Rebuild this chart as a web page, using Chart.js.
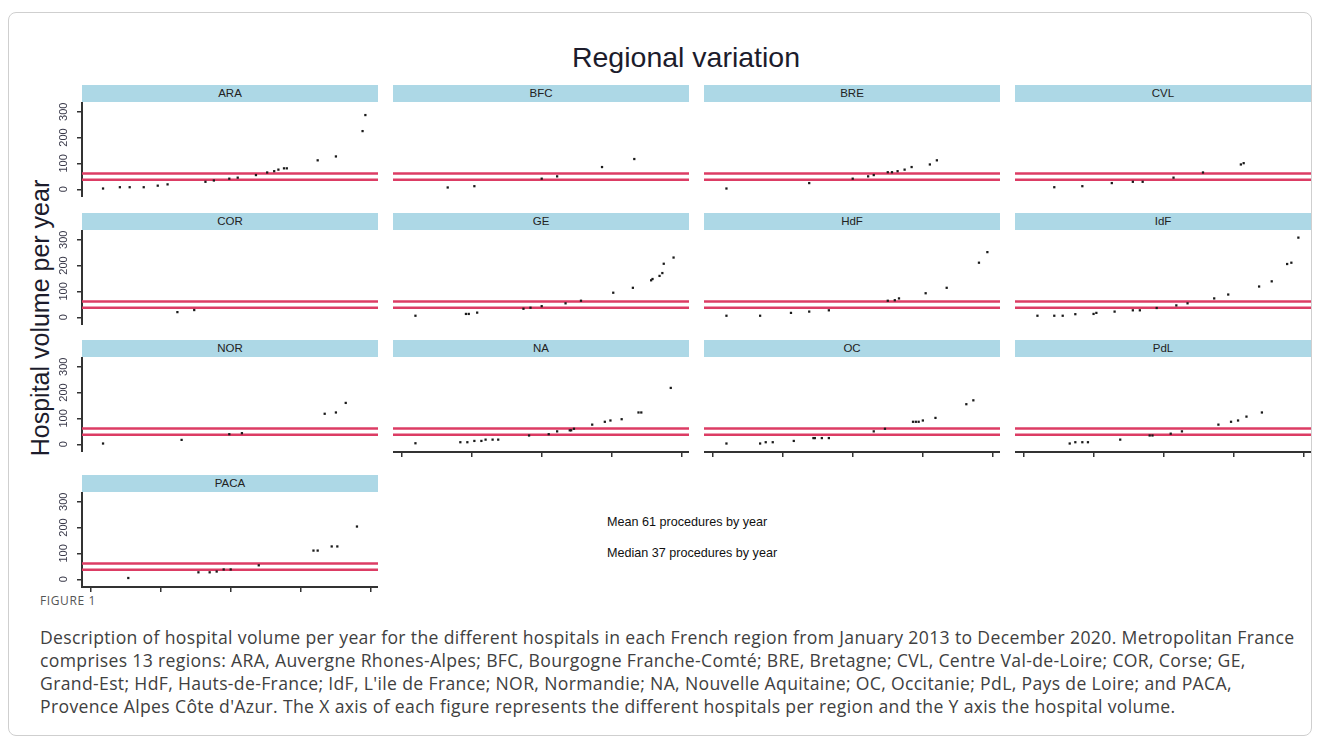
<!DOCTYPE html>
<html>
<head>
<meta charset="utf-8">
<script src="https://cdn.jsdelivr.net/npm/chart.js@4.4.1/dist/chart.umd.min.js"></script>
<style>
  html, body { margin: 0; padding: 0; background: #fff; }
  #fig { position: relative; width: 1320px; height: 743px; overflow: hidden; font-family: "Liberation Sans", Arial, sans-serif; }
  #frame { position: absolute; left: 8px; top: 12px; width: 1302px; height: 722px; border: 1px solid #cfcfcf; border-radius: 8px; }
  #title { position: absolute; left: 436px; width: 500px; top: 40px; text-align: center; font-size: 28.5px; line-height: 34px; color: #1c1c2c; }
  #ytitle { position: absolute; left: 40px; top: 318px; transform: translate(-50%, -50%) rotate(-90deg); white-space: nowrap; font-size: 25px; color: #1c1c2c; }
  .strip { position: absolute; height: 17px; background: #add8e6; text-align: center; font-size: 11.5px; line-height: 17px; color: #222; }
  .panel { position: absolute; }
  .note { position: absolute; left: 607px; font-size: 12.6px; line-height: 16px; color: #111; white-space: nowrap; }
  #figlabel { position: absolute; left: 40px; top: 592px; font-family: "Open Sans", sans-serif; font-size: 12px; letter-spacing: 0.6px; color: #555; }
  #caption { position: absolute; left: 40px; top: 626px; font-family: "Open Sans", sans-serif; font-size: 17.6px; letter-spacing: 0.34px; line-height: 23px; color: #404040; white-space: nowrap; }
</style>
</head>
<body>
<div id="fig">
  <div id="frame"></div>
  <div id="title">Regional variation</div>
  <div id="ytitle">Hospital volume per year</div>
  <div id="meanNote" class="note" style="top:514px"></div>
  <div id="medianNote" class="note" style="top:545px"></div>
  <div id="figlabel">FIGURE 1</div>
  <div id="caption">Description of hospital volume per year for the different hospitals in each French region from January 2013 to December 2020. Metropolitan France<br>comprises 13 regions: ARA, Auvergne Rhones-Alpes; BFC, Bourgogne Franche-Comté; BRE, Bretagne; CVL, Centre Val-de-Loire; COR, Corse; GE,<br>Grand-Est; HdF, Hauts-de-France; IdF, L'ile de France; NOR, Normandie; NA, Nouvelle Aquitaine; OC, Occitanie; PdL, Pays de Loire; and PACA,<br>Provence Alpes Côte d'Azur. The X axis of each figure represents the different hospitals per region and the Y axis the hospital volume.</div>
</div>
<script>
// Hospitals of each region: position on the hospital axis and yearly volume
const araRank   = [9, 21, 28, 38, 48, 55, 82, 88, 99, 105, 118, 126, 131, 134, 138, 140, 162, 175, 194, 196];
const araVolume = [3, 8, 8, 8, 14, 19, 29, 34, 41, 45, 55, 65, 70, 76, 81, 81, 112, 127, 225, 287];
const bfcRank   = [33, 52, 100, 111, 143, 166];
const bfcVolume = [7, 12, 41, 50, 86, 117];
const breRank   = [10, 69, 100, 111, 115, 125, 128, 132, 137, 142, 155, 160];
const breVolume = [3, 24, 41, 50, 55, 66, 66, 70, 76, 86, 96, 112];
const cvlRank   = [22, 42, 63, 78, 85, 107, 128, 155, 157];
const cvlVolume = [8, 12, 24, 29, 29, 45, 65, 96, 101];
const corRank   = [62, 74];
const corVolume = [20, 28];
const geRank    = [10, 46, 48, 54, 87, 92, 100, 117, 128, 151, 165, 178, 179, 184, 186, 187, 194];
const geVolume  = [6, 13, 13, 18, 33, 37, 43, 54, 64, 95, 114, 143, 148, 160, 171, 207, 231];
const hdfRank   = [10, 34, 56, 69, 83, 125, 130, 133, 152, 167, 190, 196];
const hdfVolume = [6, 6, 17, 22, 27, 64, 66, 73, 93, 114, 211, 252];
const idfRank   = [10, 22, 28, 37, 50, 52, 65, 78, 83, 95, 109, 117, 136, 146, 168, 177, 188, 191, 196];
const idfVolume = [6, 6, 6, 12, 13, 17, 22, 27, 27, 36, 46, 54, 73, 88, 119, 139, 206, 211, 308];
const norRank   = [9, 65, 99, 108, 167, 175, 182];
const norVolume = [3, 17, 39, 43, 118, 123, 160];
const naRank    = [10, 42, 47, 52, 57, 60, 65, 69, 91, 105, 111, 120, 121, 123, 136, 145, 149, 157, 169, 171, 192];
const naVolume  = [4, 8, 8, 13, 13, 18, 18, 18, 34, 39, 50, 54, 54, 60, 76, 87, 92, 97, 123, 123, 218];
const ocRank    = [10, 34, 38, 43, 58, 72, 73, 78, 83, 115, 123, 143, 145, 147, 150, 159, 181, 186];
const ocVolume  = [3, 3, 8, 8, 13, 24, 24, 24, 24, 50, 60, 87, 87, 87, 92, 102, 155, 170];
const pdlRank   = [33, 37, 42, 46, 69, 90, 92, 105, 113, 139, 148, 153, 159, 170];
const pdlVolume = [3, 8, 8, 8, 18, 34, 34, 41, 50, 76, 87, 92, 107, 123];
const pacaRank  = [27, 77, 85, 90, 95, 100, 120, 159, 162, 172, 176, 190];
const pacaVolume= [5, 27, 27, 30, 38, 38, 54, 111, 111, 127, 127, 204];

// National reference lines (procedures per year)
const meanVolume = 61;
const medianVolume = 37;

// Axis ticks
const volumeTicks = [0, 100, 200, 300];
const rankTicks = [0, 50, 100, 150, 200];

// Panels in reading order: label, positions, volumes
const regions = [
  ['ARA', araRank, araVolume], ['BFC', bfcRank, bfcVolume], ['BRE', breRank, breVolume], ['CVL', cvlRank, cvlVolume],
  ['COR', corRank, corVolume], ['GE', geRank, geVolume], ['HdF', hdfRank, hdfVolume], ['IdF', idfRank, idfVolume],
  ['NOR', norRank, norVolume], ['NA', naRank, naVolume], ['OC', ocRank, ocVolume], ['PdL', pdlRank, pdlVolume],
  ['PACA', pacaRank, pacaVolume]
];

// Layout of the lattice grid
const COL_LEFT = [82, 393, 704, 1015];
const ROW_TOP = [85, 213, 340, 475];
const PANEL_W = 296, STRIP_H = 17, PLOT_H = 95;
const X_MIN = -6, X_MAX = 205;
const Y_MIN = -29.8, Y_MAX = 337.5;
const AXIS_COLOR = '#333333';
const REF_COLOR = '#dc3c64';

Chart.defaults.font.family = '"Liberation Sans", Arial, sans-serif';
Chart.defaults.animation = false;

document.getElementById('meanNote').textContent = 'Mean ' + meanVolume + ' procedures by year';
document.getElementById('medianNote').textContent = 'Median ' + medianVolume + ' procedures by year';

const fig = document.getElementById('fig');

// Fixed axis footprint so every panel's plotting area lines up
function fixBox(size, horizontal) {
  return (s) => {
    if (horizontal) s.height = size; else s.width = size;
    s.paddingTop = 0; s.paddingBottom = 0; s.paddingLeft = 0; s.paddingRight = 0;
  };
}

regions.forEach(([label, xs, ys], i) => {
  const col = i % 4, row = Math.floor(i / 4);
  const isLeft = col === 0;
  const isBottom = (col === 0 && row === 3) || (col > 0 && row === 2);
  const yAxisW = isLeft ? 34 : 0;
  const xAxisH = isBottom ? 8 : 0;

  const strip = document.createElement('div');
  strip.className = 'strip';
  strip.style.left = COL_LEFT[col] + 'px';
  strip.style.top = ROW_TOP[row] + 'px';
  strip.style.width = PANEL_W + 'px';
  strip.textContent = label;
  fig.appendChild(strip);

  const w = PANEL_W + yAxisW, h = PLOT_H + xAxisH;
  const canvas = document.createElement('canvas');
  canvas.className = 'panel';
  canvas.width = w; canvas.height = h;
  canvas.style.width = w + 'px'; canvas.style.height = h + 'px';
  canvas.style.left = (COL_LEFT[col] - yAxisW) + 'px';
  canvas.style.top = (ROW_TOP[row] + STRIP_H) + 'px';
  fig.appendChild(canvas);

  const refLine = (v) => ({
    data: [{ x: X_MIN, y: v }, { x: X_MAX, y: v }],
    showLine: true, borderColor: REF_COLOR, borderWidth: 2.4, pointRadius: 0, order: 2
  });

  new Chart(canvas, {
    type: 'scatter',
    data: {
      datasets: [
        {
          data: xs.map((x, k) => ({ x: x, y: ys[k] })),
          pointStyle: 'rect', pointRadius: 1.6, borderWidth: 0,
          backgroundColor: '#1a1a1a', order: 1
        },
        refLine(meanVolume),
        refLine(medianVolume)
      ]
    },
    options: {
      responsive: false,
      devicePixelRatio: 1,
      events: [],
      layout: { padding: 0, autoPadding: false },
      plugins: { legend: { display: false }, tooltip: { enabled: false } },
      scales: {
        x: {
          type: 'linear', min: X_MIN, max: X_MAX,
          display: isBottom,
          afterBuildTicks: (s) => { s.ticks = rankTicks.map(v => ({ value: v })); },
          afterFit: fixBox(xAxisH, true),
          grid: { drawOnChartArea: false, drawTicks: true, tickLength: 5, color: AXIS_COLOR, lineWidth: 1.5 },
          border: { display: true, color: AXIS_COLOR, width: 2 },
          ticks: { display: false }
        },
        y: {
          type: 'linear', min: Y_MIN, max: Y_MAX,
          display: isLeft,
          afterBuildTicks: (s) => { s.ticks = volumeTicks.map(v => ({ value: v })); },
          afterFit: fixBox(yAxisW, false),
          grid: { drawOnChartArea: false, drawTicks: true, tickLength: 5, color: AXIS_COLOR, lineWidth: 1.5 },
          border: { display: true, color: AXIS_COLOR, width: 2 },
          ticks: {
            minRotation: 90, maxRotation: 90, crossAlign: 'center', padding: 4,
            color: '#3a3a4a', font: { size: 11 },
            callback: (v) => String(v)
          }
        }
      }
    }
  });
});
</script>
</body>
</html>
